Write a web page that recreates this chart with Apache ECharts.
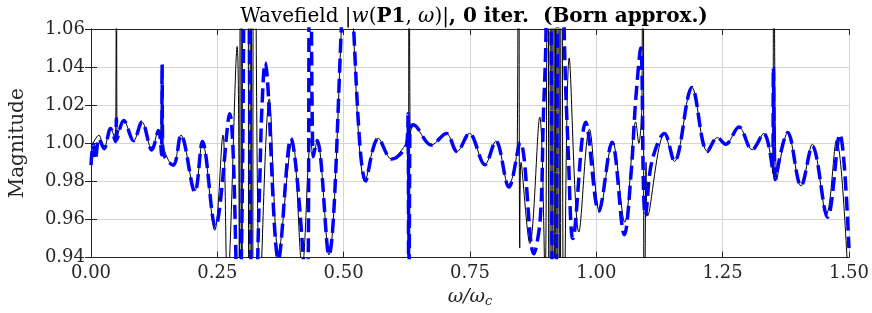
<!DOCTYPE html>
<html><head><meta charset="utf-8">
<script src="https://cdn.jsdelivr.net/npm/echarts@6/dist/echarts.min.js"></script>
<style>html,body{margin:0;padding:0;background:#fff}#c{width:872px;height:313px}</style>
</head><body><div id="c"></div>
<script>
// tick labels
const xTickLabels = ['0.00','0.25','0.50','0.75','1.00','1.25','1.50'];
const yTickLabels = ['0.94','0.96','0.98','1.00','1.02','1.04','1.06'];

// thin black curve: [omega/omega_c, magnitude]
const exactCurve = [
[0,0.998],[0.0157,1.0043],[0.0255,0.9969],[0.0387,1.0078],[0.0484,1.0009],[0.0504,1.2],[0.0516,1.003],
[0.0648,1.012],[0.0844,1.0014],[0.1008,1.0112],[0.1204,0.9965],[0.1335,1.0069],[0.1370,1.0028],[0.1405,1.030],
[0.1420,1.001],[0.163,0.988],[0.178,1.0043],[0.2056,0.975],[0.2205,1.0009],[0.2448,0.9543],[0.261,1.0043],
[0.2700,0.925],[0.2892,1.0508],[0.2935,0.92],[0.2960,1.4],[0.2985,0.7],[0.3010,1.4],[0.3075,1.9],[0.3135,0.6],
[0.3165,1.4],[0.3195,0.6],[0.3230,1.25],[0.3345,0.92],[0.3528,1.0233],[0.371,0.943],[0.3986,1.002],[0.418,0.935],
[0.4350,1.0015],[0.4398,0.993],[0.4477,1.0017],[0.4706,0.9414],[0.508,1.10],[0.5426,0.9797],[0.5688,1.0026],
[0.5949,0.9917],[0.6255,1.0005],[0.6280,0.80],[0.6295,1.30],[0.6320,1.004],[0.6375,1.0098],[0.6735,0.9991],
[0.703,1.0052],[0.7245,0.9957],[0.7487,1.0052],[0.7795,0.9888],[0.8011,1.0012],[0.826,0.978],[0.8437,1.0],
[0.8462,1.25],[0.8485,0.945],[0.8510,0.99],[0.8685,0.9474],[0.888,1.0138],[0.8985,0.925],[0.9035,1.3],
[0.9070,0.7],[0.9105,1.4],[0.9130,0.7],[0.9155,1.4],[0.9180,0.7],[0.9205,1.4],[0.9230,0.7],[0.9255,1.4],
[0.9280,0.7],[0.9315,1.3],[0.9360,0.88],[0.9464,1.0448],[0.9655,0.9534],[0.9863,1.0074],[1.0065,0.9638],
[1.032,1.001],[1.0563,0.9586],[1.078,1.0112],[1.084,1.0],[1.0904,1.0233],[1.0925,1.3],[1.0950,0.80],
[1.0985,0.99],[1.1020,0.962],[1.135,1.0052],[1.1545,0.9905],[1.1892,1.0293],[1.22,0.9957],[1.2396,1.003],
[1.256,0.9995],[1.2822,1.0086],[1.3083,0.9966],[1.3313,1.0052],[1.3495,0.984],[1.3510,1.2],[1.3574,0.981],
[1.379,1.0057],[1.4052,0.9776],[1.4274,0.9995],[1.4555,0.9629],[1.4752,1.0017],[1.5,0.919]
];

// thick dashed blue curve (Born approximation)
const bornCurve = [
[0,0.9885],[0.0042,0.9995],[0.0085,0.9914],[0.0160,1.0025],[0.0260,0.9972],[0.0387,1.0078],[0.0484,1.0009],
[0.0502,1.013],[0.0515,1.002],[0.0648,1.012],[0.0844,1.0014],[0.1008,1.0112],[0.1204,0.9965],[0.1335,1.0067],
[0.1395,0.994],[0.1407,1.0414],[0.1420,0.996],[0.163,0.9885],[0.178,1.0043],[0.2056,0.9745],[0.2205,1.0009],
[0.2460,0.9560],[0.2743,1.0155],[0.2920,0.90],[0.3004,1.0],[0.3075,1.35],[0.3148,1.0],[0.3220,0.82],
[0.3300,0.94],[0.3345,0.985],[0.3380,1.017],[0.3443,1.0423],[0.371,0.939],[0.3953,1.0026],[0.4280,0.91],
[0.4330,1.3],[0.4398,0.993],[0.4477,1.0015],[0.4706,0.9414],[0.508,1.10],[0.5439,0.9802],[0.5688,1.0026],
[0.5949,0.9917],[0.6250,1.0],[0.6275,1.0155],[0.6290,0.80],[0.6310,1.006],[0.6375,1.0098],[0.6735,0.9991],
[0.703,1.0052],[0.7245,0.9957],[0.7487,1.0052],[0.7795,0.9888],[0.8011,1.0012],[0.827,0.977],[0.8495,1.0005],
[0.8763,0.942],[0.889,0.960],[0.895,1.012],[0.9005,1.06],[0.9060,1.35],[0.9115,1.0],[0.9160,0.75],
[0.9290,1.25],[0.9366,1.058],[0.9450,0.992],[0.9536,0.950],[0.9790,1.011],[1.005,0.9645],[1.031,1.0005],
[1.0555,0.952],[1.069,0.985],[1.078,1.023],[1.0878,1.050],[1.0935,0.975],[1.0970,0.962],[1.1095,0.990],
[1.135,1.0052],[1.1545,0.9905],[1.1892,1.0293],[1.22,0.9957],[1.2396,1.003],[1.256,0.9995],[1.2822,1.0086],
[1.3083,0.9966],[1.3313,1.0052],[1.3490,0.986],[1.3505,1.040],[1.3540,0.981],[1.379,1.0057],[1.4052,0.9776],
[1.4274,0.9985],[1.4575,0.9612],[1.4818,1.0047],[1.5,0.945]
];

const FONT = 'DejaVu Serif';
const AX = '#262626';
const chart = echarts.init(document.getElementById('c'), null, {renderer: 'canvas'});
const boxAxis = {
  axisLine: {show: true, lineStyle: {color: AX, width: 1}},
  axisTick: {show: true, inside: true, length: 6, lineStyle: {color: AX}},
  axisLabel: {show: false},
  splitLine: {show: false}
};
chart.setOption({
  animation: false,
  backgroundColor: '#fff',
  title: {
    text: '{n|Wavefield |}{i|w}{n|(}{b|P1}{n|, }{i|ω}{n|)|}{b|, 0 iter.  (Born approx.)}',
    left: 469, top: 2, textAlign: 'center',
    textStyle: {
      fontWeight: 'normal',
      rich: {
        n: {fontFamily: FONT, fontSize: 20, fontWeight: 'normal', color: '#000'},
        i: {fontFamily: FONT, fontSize: 20, fontWeight: 'normal', fontStyle: 'italic', color: '#000'},
        b: {fontFamily: FONT, fontSize: 20, fontWeight: 'bold', color: '#000'}
      }
    }
  },
  grid: {left: 87, right: 21, top: 29, bottom: 52, containLabel: false},
  xAxis: [{
    type: 'value', min: 0, max: 1.5, interval: 0.25, position: 'bottom',
    axisLine: {show: true, onZero: false, lineStyle: {color: AX, width: 1}},
    axisTick: {show: true, inside: true, length: 6, lineStyle: {color: AX}},
    splitLine: {show: true, lineStyle: {color: '#d6d6d6', width: 1}},
    axisLabel: {fontFamily: FONT, fontSize: 18, color: AX, margin: 7,
      formatter: v => xTickLabels[Math.round(v / 0.25)]},
    name: '{a|ω/ω}{s|c}', nameLocation: 'middle', nameGap: 27,
    nameTextStyle: {rich: {
      a: {fontFamily: FONT, fontSize: 19, fontStyle: 'italic', color: AX},
      s: {fontFamily: FONT, fontSize: 13, fontStyle: 'italic', color: AX, padding: [9, 0, 0, 0]}
    }}
  }, Object.assign({type: 'value', min: 0, max: 1.5, interval: 0.25, position: 'top'}, boxAxis)],
  yAxis: [{
    type: 'value', min: 0.94, max: 1.06, interval: 0.02, position: 'left',
    axisLine: {show: true, onZero: false, lineStyle: {color: AX, width: 1}},
    axisTick: {show: true, inside: true, length: 6, lineStyle: {color: AX}},
    splitLine: {show: true, lineStyle: {color: '#d6d6d6', width: 1}},
    axisLabel: {fontFamily: FONT, fontSize: 18, color: AX, margin: 6,
      formatter: v => yTickLabels[Math.round((v - 0.94) / 0.02)]},
    name: 'Magnitude', nameLocation: 'middle', nameGap: 63, nameRotate: 90,
    nameTextStyle: {fontFamily: FONT, fontSize: 20, color: AX}
  }, Object.assign({type: 'value', min: 0.94, max: 1.06, interval: 0.02, position: 'right'}, boxAxis)],
  series: [{
    name: 'Exact', type: 'line', data: exactCurve, xAxisIndex: 0, yAxisIndex: 0,
    showSymbol: false, smooth: 0.36, clip: true, z: 2,
    lineStyle: {color: '#000', width: 1}
  }, {
    name: 'Born approx.', type: 'line', data: bornCurve, xAxisIndex: 0, yAxisIndex: 0,
    showSymbol: false, smooth: 0.36, clip: true, z: 3,
    lineStyle: {color: '#0000ff', width: 3.5, type: [14, 6]}
  }]
});
</script></body></html>
